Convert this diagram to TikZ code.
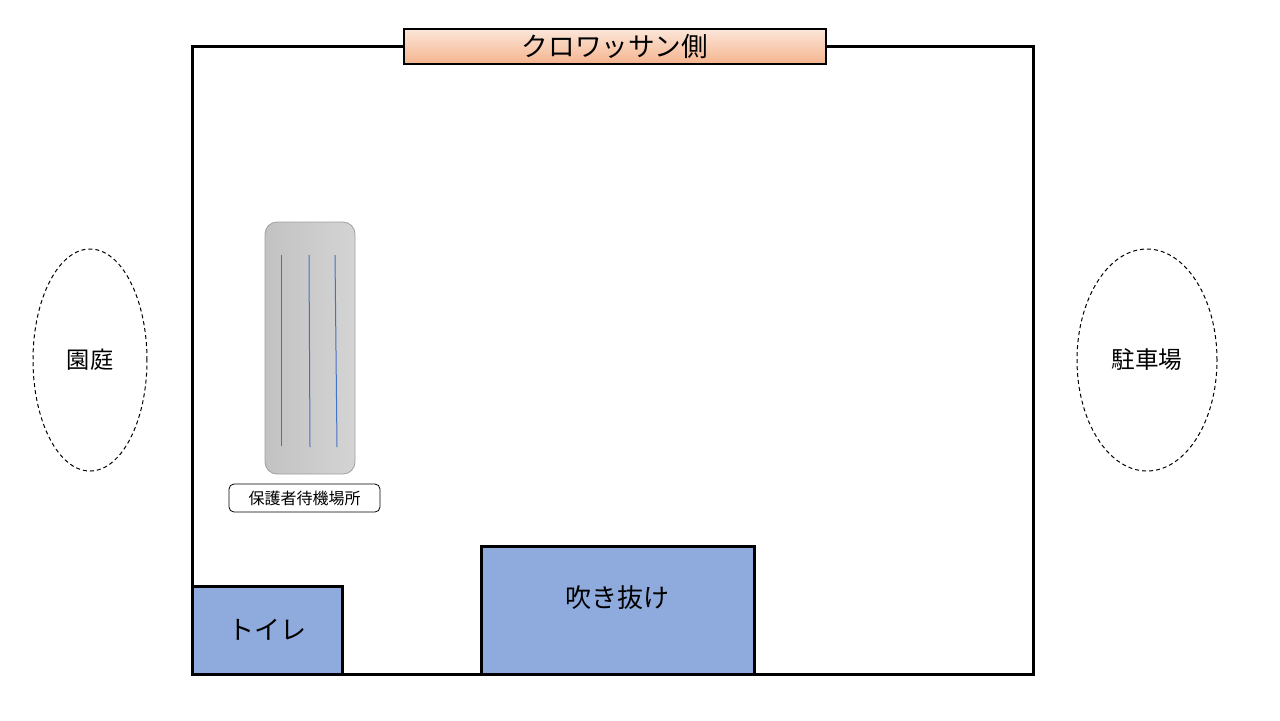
\documentclass[tikz,border=0pt]{standalone}
\usepackage{fontspec}
\usetikzlibrary{shapes.geometric}
\setmainfont{Noto Sans CJK JP}
\definecolor{roomblue}{HTML}{8FAADC}
\definecolor{peachtop}{HTML}{FCE6DA}
\definecolor{peachbot}{HTML}{F4B48E}
\definecolor{benchl}{HTML}{C2C2C2}
\definecolor{benchr}{HTML}{D4D4D4}
\definecolor{benchline}{HTML}{4472C4}
\begin{document}
\begin{tikzpicture}[x=0.5pt,y=-0.5pt,
  wall/.style={draw=black,line width=1.5pt},
  bluebox/.style={draw=black,line width=1.5pt,fill=roomblue},
  outside/.style={draw=black,dashed,line width=0.5pt,dash pattern=on 2pt off 1.5pt},
  lbl/.style={font=\fontsize{13}{15}\selectfont}]
\useasboundingbox (0,0) rectangle (1280,720);
% outer wall
\draw[wall] (192,46) rectangle (1033,674);
% top label
\node[draw=black,line width=1.2pt,top color=peachtop,bottom color=peachbot,
  minimum width=211pt,minimum height=17.5pt,inner sep=0pt,
  font=\fontsize{13.3}{15}\selectfont] (croissant) at (615,46.5) {クロワッサン側};
% toilet and void
\draw[bluebox] (192,586) rectangle (342,674);
\node[lbl] (toilet) at (267,630) {トイレ};
\draw[bluebox] (481,546) rectangle (754,674);
\node[lbl] (void) at (617,598) {吹き抜け};
% bench
\draw[draw=gray!75,line width=0.4pt,left color=benchl,right color=benchr,rounded corners=6pt]
  (265,222) rectangle (355,474);
\coordinate (b1t) at (281,255); \coordinate (b1b) at (281,446);
\coordinate (b2t) at (309,255); \coordinate (b2b) at (310,447);
\coordinate (b3t) at (335,255); \coordinate (b3b) at (337,447);
\draw[benchline,line width=0.5pt] (b1t) -- (b1b);
\draw[benchline,line width=0.5pt] (b2t) -- (b2b);
\draw[benchline,line width=0.5pt] (b3t) -- (b3b);
\node[draw=black,line width=0.4pt,rounded corners=2.5pt,fill=white,
  minimum width=75.5pt,minimum height=14pt,inner sep=0pt,
  font=\fontsize{8}{9}\selectfont] (wait) at (304.5,498) {保護者待機場所};
% outside areas
\node[outside,ellipse,minimum width=57pt,minimum height=111pt,inner sep=0pt] (garden) at (90,360) {};
\node[font=\fontsize{11.6}{13}\selectfont] at (garden.center) {園庭};
\node[outside,ellipse,minimum width=70pt,minimum height=111pt,inner sep=0pt] (parking) at (1147,360) {};
\node[font=\fontsize{11.8}{13}\selectfont] at (parking.center) {駐車場};
\end{tikzpicture}
\end{document}
